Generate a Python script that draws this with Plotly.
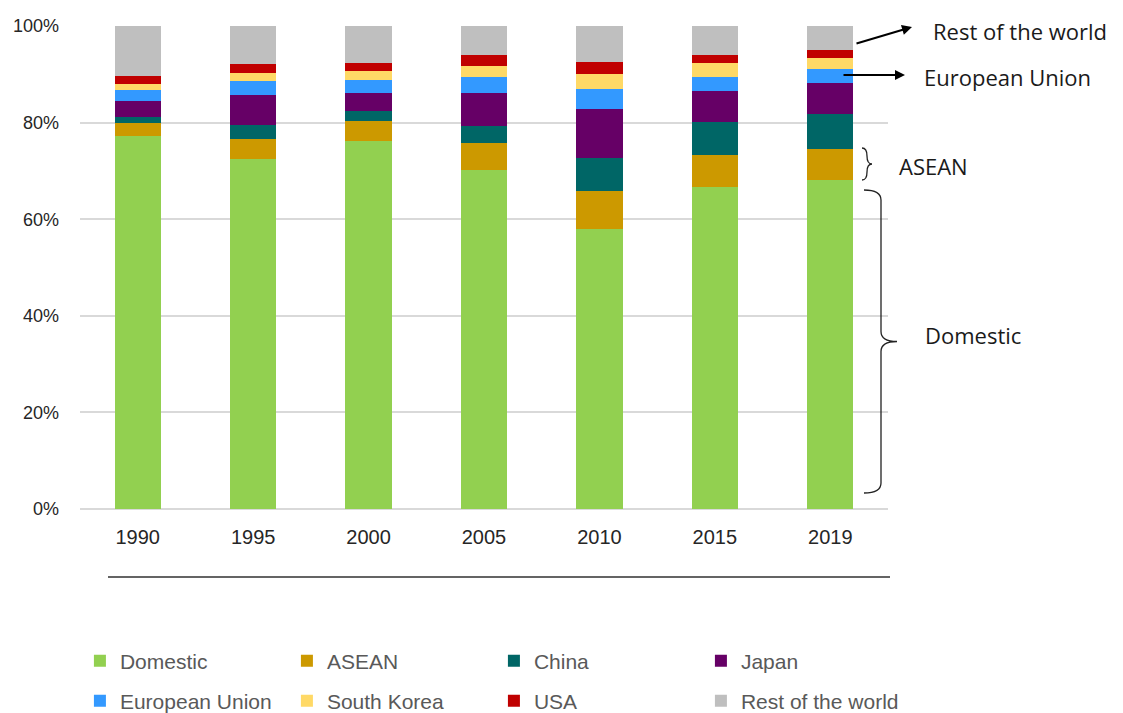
import plotly.graph_objects as go

years = ["1990", "1995", "2000", "2005", "2010", "2015", "2019"]
domestic = [77.3, 72.5, 76.2, 70.2, 58.0, 66.7, 68.2]
asean = [2.7, 4.1, 4.1, 5.5, 7.8, 6.6, 6.3]
china = [1.2, 3.0, 2.2, 3.7, 6.9, 6.8, 7.2]
japan = [3.2, 6.1, 3.7, 6.8, 10.1, 6.5, 6.5]
eu = [2.4, 2.9, 2.7, 3.3, 4.2, 2.9, 2.8]
south_korea = [1.2, 1.7, 1.8, 2.3, 3.1, 2.9, 2.4]
usa = [1.6, 1.9, 1.7, 2.1, 2.4, 1.7, 1.7]
rest_world = [10.4, 7.8, 7.5, 6.1, 7.5, 5.9, 4.9]
y_ticks = [0, 20, 40, 60, 80, 100]
y_tick_labels = ["0%", "20%", "40%", "60%", "80%", "100%"]

series = [
    ("Domestic", domestic, "#92D050", "legend"),
    ("ASEAN", asean, "#CC9900", "legend"),
    ("China", china, "#006666", "legend"),
    ("Japan", japan, "#660066", "legend"),
    ("European Union", eu, "#3399FF", "legend2"),
    ("South Korea", south_korea, "#FFD966", "legend2"),
    ("USA", usa, "#C00000", "legend2"),
    ("Rest of the world", rest_world, "#BFBFBF", "legend2"),
]

# page body has an 8px margin; work in reference pixel coordinates
OFF = 8
W, H = 1123 - OFF, 713 - OFF
X0, X1, Y0, Y1 = 80, 888, 26, 509  # plot area in reference pixels
L, T = X0 - OFF, Y0 - OFF
R, B = W - (X1 - OFF), H - (Y1 - OFF)
PW, PH = X1 - X0, Y1 - Y0


def px(x):
    return (x - X0) / PW


def py(y):
    return (Y1 - y) / PH


fig = go.Figure()
for name, vals, color, lg in series:
    fig.add_trace(go.Bar(x=years, y=vals, name=name, marker_color=color,
                         marker_line_width=0, legend=lg))

legend_common = dict(orientation="h", x=-0.0001, xanchor="left", yanchor="middle",
                     entrywidth=162, itemwidth=30, traceorder="normal",
                     font=dict(size=21, color="#595959"), bgcolor="rgba(0,0,0,0)")

fig.update_layout(
    width=W, height=H, barmode="stack", bargap=0.6,
    margin=dict(l=L, r=R, t=T, b=B, autoexpand=False),
    plot_bgcolor="white", paper_bgcolor="white",
    font=dict(family="Arial, Liberation Sans", size=18, color="#262626"),
    xaxis=dict(showgrid=False, ticks="", ticklabelstandoff=14,
               tickfont=dict(size=20, color="#262626")),
    yaxis=dict(range=[0, 100], tickmode="array", tickvals=y_ticks, ticktext=y_tick_labels,
               showgrid=True, gridcolor="#D9D9D9", gridwidth=1.5,
               zeroline=True, zerolinecolor="#D9D9D9", zerolinewidth=1.5,
               ticklabelstandoff=20, tickfont=dict(size=18, color="#262626")),
    legend=dict(legend_common, y=py(661)),
    legend2=dict(legend_common, y=py(701)),
)

# line under the x-axis labels
fig.add_shape(type="line", xref="paper", yref="paper",
              x0=px(108), x1=px(890), y0=py(577), y1=py(577),
              line=dict(color="#303030", width=1.5))

ann_font = dict(family="Open Sans, Noto Sans", size=22, color="#1a1a1a")

# arrows
fig.add_annotation(xref="paper", yref="paper", x=px(912), y=py(27), ax=-57, ay=17,
                   text="", showarrow=True, arrowhead=2, arrowsize=1, arrowwidth=2,
                   arrowcolor="black")
fig.add_annotation(xref="paper", yref="paper", x=px(905), y=py(75), ax=-63, ay=0,
                   text="", showarrow=True, arrowhead=2, arrowsize=1, arrowwidth=2,
                   arrowcolor="black")

# labels
fig.add_annotation(xref="paper", yref="paper", x=px(931), y=py(31), text="Rest of the world",
                   showarrow=False, xanchor="left", yanchor="middle", font=ann_font)
fig.add_annotation(xref="paper", yref="paper", x=px(922), y=py(77), text="European Union",
                   showarrow=False, xanchor="left", yanchor="middle", font=ann_font)
fig.add_annotation(xref="paper", yref="paper", x=px(897), y=py(166), text="ASEAN",
                   showarrow=False, xanchor="left", yanchor="middle", font=ann_font)
fig.add_annotation(xref="paper", yref="paper", x=px(923), y=py(335), text="Domestic",
                   showarrow=False, xanchor="left", yanchor="middle", font=ann_font)


def brace(x0, y0, y1, depth, tip):
    # curly brace opening to the left, from y0 (top) to y1 (bottom) in pixels
    xm = x0 + depth
    xt = xm + tip
    ym = (y0 + y1) / 2
    r = min(10, (y1 - y0) / 4)
    pts = [
        f"M {px(x0)},{py(y0)}",
        f"Q {px(xm)},{py(y0)} {px(xm)},{py(y0 + r)}",
        f"L {px(xm)},{py(ym - r)}",
        f"Q {px(xm)},{py(ym)} {px(xt)},{py(ym)}",
        f"Q {px(xm)},{py(ym)} {px(xm)},{py(ym + r)}",
        f"L {px(xm)},{py(y1 - r)}",
        f"Q {px(xm)},{py(y1)} {px(x0)},{py(y1)}",
    ]
    return " ".join(pts)


fig.add_shape(type="path", xref="paper", yref="paper", path=brace(864, 190, 493, 17, 16),
              line=dict(color="#222222", width=1.3))
fig.add_shape(type="path", xref="paper", yref="paper", path=brace(862, 148, 180, 5, 5),
              line=dict(color="#222222", width=1.3))

fig.write_html("out.html")
